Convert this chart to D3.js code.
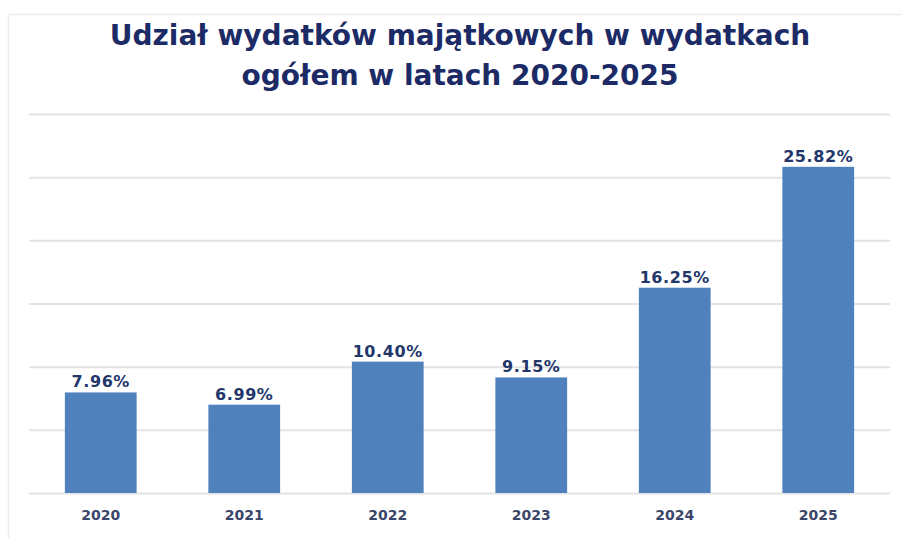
<!DOCTYPE html>
<html>
<head>
<meta charset="utf-8">
<script src="https://cdn.jsdelivr.net/npm/d3@7"></script>
<style>
  html, body { margin: 0; padding: 0; background: #ffffff; }
  svg { display: block; }
</style>
</head>
<body>
<svg id="chart" width="901" height="538"></svg>
<script>
const titleLines = ["Udział wydatków majątkowych w wydatkach", "ogółem w latach 2020-2025"];
const years = ["2020", "2021", "2022", "2023", "2024", "2025"];
const shares = [7.96, 6.99, 10.40, 9.15, 16.25, 25.82];
const shareLabels = ["7.96%", "6.99%", "10.40%", "9.15%", "16.25%", "25.82%"];
const gridTicks = [0, 5, 10, 15, 20, 25, 30];

const svg = d3.select("#chart");
const W = 901, H = 538;

// faint frame (top and left edges visible)
svg.append("line").attr("x1", 8.5).attr("x2", W).attr("y1", 14.5).attr("y2", 14.5)
  .attr("stroke", "#ebebeb").attr("stroke-width", 1.5);
svg.append("line").attr("x1", 8.5).attr("x2", 8.5).attr("y1", 14.5).attr("y2", H)
  .attr("stroke", "#ebebeb").attr("stroke-width", 1.5);

const plot = { left: 29, right: 890, top: 114, bottom: 493 };

const x = d3.scaleBand().domain(years).range([plot.left, plot.right]).paddingInner(0.5).paddingOuter(0.25);
const y = d3.scaleLinear().domain([0, 30]).range([plot.bottom, plot.top]);

// gridlines
svg.append("g")
  .attr("transform", `translate(${plot.left},0)`)
  .call(d3.axisLeft(y).tickValues(gridTicks).tickSize(-(plot.right - plot.left)).tickFormat(""))
  .call(g => g.select(".domain").remove())
  .call(g => g.selectAll(".tick line").attr("stroke", "#e3e3e3").attr("stroke-width", 2));

// title
const title = svg.append("text")
  .attr("x", 460).attr("text-anchor", "middle")
  .attr("font-family", "'DejaVu Sans', sans-serif")
  .attr("font-weight", "bold").attr("font-size", 28)
  .attr("fill", "#1c2b66");
title.selectAll("tspan").data(titleLines).join("tspan")
  .attr("x", 460).attr("y", (d, i) => 45 + i * 40).text(d => d);

// bars
svg.append("g").selectAll("rect").data(years).join("rect")
  .attr("x", d => x(d))
  .attr("width", x.bandwidth())
  .attr("y", (d, i) => y(shares[i]))
  .attr("height", (d, i) => y(0) - y(shares[i]))
  .attr("fill", "#4f81bd");

// value labels
svg.append("g").selectAll("text").data(years).join("text")
  .attr("x", d => x(d) + x.bandwidth() / 2)
  .attr("y", (d, i) => y(shares[i]) - 5)
  .attr("text-anchor", "middle")
  .attr("font-family", "'DejaVu Sans', sans-serif")
  .attr("font-weight", "bold").attr("font-size", 16)
  .attr("letter-spacing", 0.6)
  .attr("fill", "#22366a")
  .text((d, i) => shareLabels[i]);

// x axis labels
svg.append("g")
  .attr("transform", `translate(0,${plot.bottom})`)
  .call(d3.axisBottom(x).tickSize(0).tickPadding(17))
  .call(g => g.select(".domain").remove())
  .call(g => g.selectAll("text")
    .attr("font-family", "'DejaVu Sans', sans-serif")
    .attr("font-weight", "bold").attr("font-size", 14)
    .attr("fill", "#3a4669"));
</script>
</body>
</html>
